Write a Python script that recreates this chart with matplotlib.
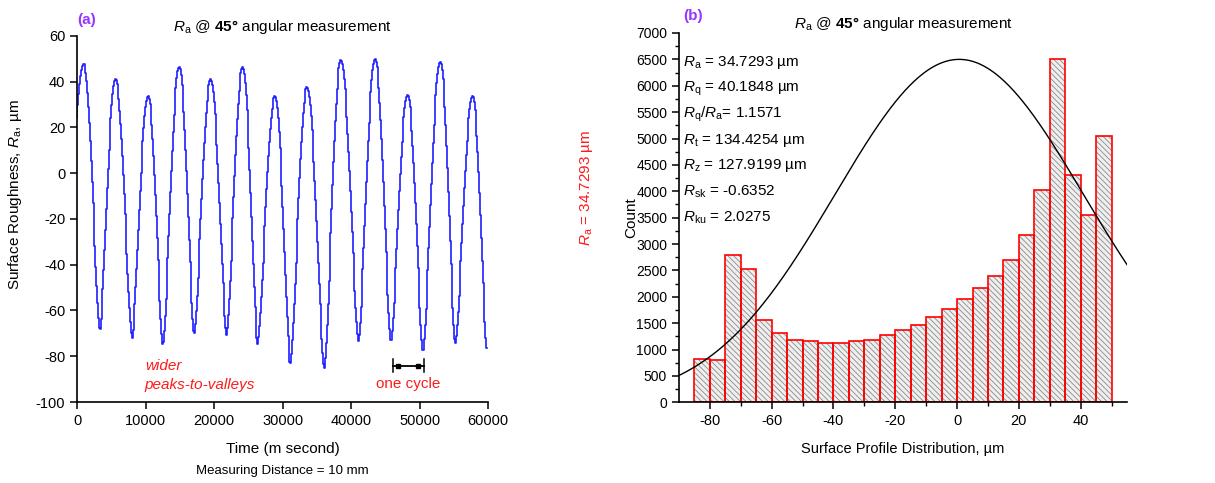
import numpy as np
import matplotlib
matplotlib.use("Agg")
import matplotlib.pyplot as plt

plt.rcParams['font.family'] = ['Liberation Sans', 'DejaVu Sans']
plt.rcParams['mathtext.fontset'] = 'custom'
plt.rcParams['mathtext.rm'] = 'Liberation Sans'
plt.rcParams['mathtext.it'] = 'Liberation Sans:italic'
plt.rcParams['mathtext.bf'] = 'Liberation Sans:bold'
plt.rcParams['hatch.linewidth'] = 0.6
plt.rcParams['axes.unicode_minus'] = False

# (a) profile trace: peaks and valleys (ms, um)
peak_t = [980, 5610, 10380, 14920, 19500, 24180, 28900, 33580, 38510, 43520, 48250, 53030, 57750]
peak_v = [48, 41, 33.6, 46.6, 41, 46.4, 33.7, 37.7, 49.4, 49.9, 34.3, 48.7, 33.6]
valley_t = [-1900, 3320, 8040, 12530, 17110, 21840, 26370, 31140, 36110, 41090, 45820, 50500, 55220, 59850]
valley_v = [-70, -68.9, -72, -75.3, -70.5, -70.5, -74.7, -84, -85.3, -73.3, -73.8, -78.2, -74.7, -77.4]

# (b) histogram
bin_edges = np.arange(-85, 55, 5)
counts = [830, 800, 2800, 2520, 1560, 1310, 1190, 1160, 1130, 1130, 1160, 1190, 1280, 1370,
          1460, 1610, 1770, 1950, 2160, 2400, 2700, 3180, 4030, 6500, 4300, 3550, 5050]
fit_mu, fit_sigma, fit_peak = 0.7, 40.1848, 6500

stats = [r'$\mathit{R}_\mathrm{a}$ = 34.7293 µm',
         r'$\mathit{R}_\mathrm{q}$ = 40.1848 µm',
         r'$\mathit{R}_\mathrm{q}/\mathit{R}_\mathrm{a}$= 1.1571',
         r'$\mathit{R}_\mathrm{t}$ = 134.4254 µm',
         r'$\mathit{R}_\mathrm{z}$ = 127.9199 µm',
         r'$\mathit{R}_\mathrm{sk}$ = -0.6352',
         r'$\mathit{R}_\mathrm{ku}$ = 2.0275']

title = r'$\mathit{R}_\mathrm{a}$ @ $\mathbf{45°}$ angular measurement'
red = '#ff1a1a'
purple = '#9933ff'

# build trace from the extrema (valley -> peak -> valley ...)
knot_t = []
knot_v = []
for i in range(len(valley_t)):
    knot_t.append(valley_t[i]); knot_v.append(valley_v[i])
    if i < len(peak_t):
        knot_t.append(peak_t[i]); knot_v.append(peak_v[i])

t = np.arange(0, 59900, 130)
y = np.zeros_like(t, dtype=float)
for j in range(len(knot_t) - 1):
    ta, tb = knot_t[j], knot_t[j + 1]
    m = (t >= ta) & (t <= tb)
    u = (t[m] - ta) / (tb - ta)
    if knot_v[j] < knot_v[j + 1]:
        lo, hi = knot_v[j], knot_v[j + 1]
    else:
        lo, hi = knot_v[j + 1], knot_v[j]
        u = 1 - u
    c = ((1 - np.cos(np.pi * u)) / 2) ** 0.75
    y[m] = lo + (hi - lo) * c

fig = plt.figure(figsize=(12.15, 4.83), dpi=100)
ax1 = fig.add_axes([0.0634, 0.1677, 0.3383, 0.7578])
ax2 = fig.add_axes([0.5588, 0.167, 0.3688, 0.7647])

for ax in (ax1, ax2):
    ax.spines['top'].set_visible(False)
    ax.spines['right'].set_visible(False)
    ax.spines['left'].set_linewidth(1.2)
    ax.spines['bottom'].set_linewidth(1.2)
    ax.tick_params(direction='out', length=5, width=1.1, labelsize=10.5)
    ax.tick_params(which='minor', direction='out', length=3, width=1)

# panel (a)
ax1.plot(t, y, color='#1f1fff', lw=1.2, drawstyle='steps-mid')
ax1.set_xlim(0, 60000)
ax1.set_ylim(-100, 60)
ax1.set_xticks(np.arange(0, 60001, 10000))
ax1.set_yticks(np.arange(-100, 61, 20))
ax1.set_xlabel('Time (m second)', fontsize=11, labelpad=10)
ax1.set_ylabel(r'Surface Roughness, $\mathit{R}_\mathrm{a}$, µm', fontsize=11)
ax1.yaxis.set_label_coords(-0.129, 0.567)
ax1.text(0.5, -0.188, 'Measuring Distance = 10 mm', transform=ax1.transAxes,
         ha='center', va='center', fontsize=9.5)
ax1.set_title(title, fontsize=11, pad=3)
ax1.text(0.0, 1.045, '(a)', transform=ax1.transAxes, color=purple,
         fontsize=11, fontweight='bold', ha='left', va='center')
ax1.text(1.24, 0.585, r'$\mathit{R}_\mathrm{a}$ = 34.7293 µm', transform=ax1.transAxes,
         rotation=90, color=red, fontsize=11, ha='center', va='center')
ax1.text(9900, -84.3, 'wider', color=red, fontsize=11, style='italic', va='center')
ax1.text(9900, -92.6, 'peaks-to-valleys', color=red, fontsize=11, style='italic', va='center')
ax1.plot([46790, 49770], [-84.2, -84.2], color='black', marker='s', ms=3, lw=0)
ax1.plot([46070, 50600], [-84.2, -84.2], color='black', lw=1.3)
ax1.plot([46070, 46070], [-81.4, -87], color='black', lw=1.1)
ax1.plot([50600, 50600], [-81.4, -87], color='black', lw=1.1)
ax1.text(48300, -92, 'one cycle', color=red, fontsize=11, ha='center', va='center')

# panel (b)
ax2.bar(bin_edges[:-1], counts, width=5, align='edge', facecolor='#efefef',
        edgecolor='#8a8a8a', hatch='\\' * 6, linewidth=0)
ax2.bar(bin_edges[:-1], counts, width=5, align='edge', facecolor='none',
        edgecolor='#ff0000', linewidth=1.2)
xs = np.linspace(-90, 55, 400)
ax2.plot(xs, fit_peak * np.exp(-(xs - fit_mu) ** 2 / (2 * fit_sigma ** 2)), color='black', lw=1)
ax2.set_xlim(-90, 55)
ax2.set_ylim(0, 7000)
ax2.set_xticks(np.arange(-80, 41, 20))
ax2.set_xticks(np.arange(-70, 51, 20), minor=True)
ax2.set_yticks(np.arange(0, 7001, 500))
ax2.set_yticks(np.arange(250, 7000, 500), minor=True)
ax2.tick_params(axis='y', labelsize=10)
ax2.set_xlabel('Surface Profile Distribution, µm', fontsize=10.5, labelpad=10)
ax2.set_ylabel('Count', fontsize=11)
ax2.yaxis.set_label_coords(-0.09, 0.5)
ax2.set_title(title, fontsize=11, pad=3)
ax2.text(0.01, 1.045, '(b)', transform=ax2.transAxes, color=purple,
         fontsize=11, fontweight='bold', ha='left', va='center')
for i, s in enumerate(stats):
    ax2.text(-88.6, 6440 - 490 * i, s, fontsize=11, ha='left', va='center')

fig.savefig('out.png', dpi=100)
